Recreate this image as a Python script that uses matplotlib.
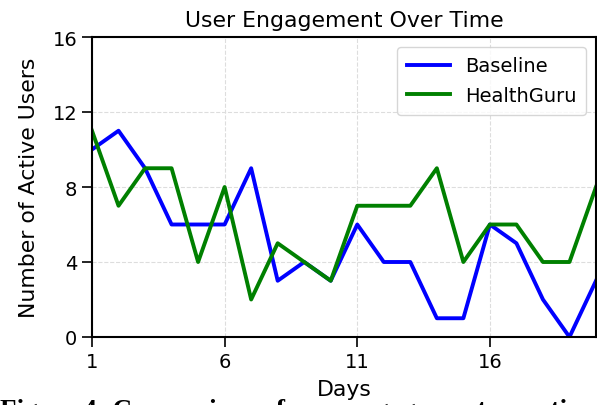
import matplotlib
matplotlib.use("Agg")
import matplotlib.pyplot as plt

# Données
jours = list(range(1, 21))
baseline = [10, 11, 9, 6, 6, 6, 9, 3, 4, 3, 6, 4, 4, 1, 1, 6, 5, 2, 0, 3]
healthguru = [11, 7, 9, 9, 4, 8, 2, 5, 4, 3, 7, 7, 7, 9, 4, 6, 6, 4, 4, 8]
xticks = [1, 6, 11, 16]
yticks = [0, 4, 8, 12, 16]

fig = plt.figure(figsize=(5.97, 4.06), dpi=100)
ax = fig.add_axes([92 / 597, 68 / 406, 504 / 597, 300 / 406])

ax.plot(jours, baseline, color="blue", linewidth=2.8, label="Baseline")
ax.plot(jours, healthguru, color="green", linewidth=2.8, label="HealthGuru")

ax.set_xlim(1, 20)
ax.set_ylim(0, 16)
ax.set_xticks(xticks)
ax.set_yticks(yticks)
ax.tick_params(labelsize=14, length=7, width=1.2)
for s in ax.spines.values():
    s.set_linewidth(1.5)
ax.grid(True, linestyle="--", color="#dddddd", linewidth=0.8)

ax.set_title("User Engagement Over Time", fontsize=15.8, pad=8)
ax.set_xlabel("Days", fontsize=15.8, labelpad=6)
ax.set_ylabel("Number of Active Users", fontsize=15.8, labelpad=10)
ax.legend(loc="upper right", fontsize=14, handlelength=2.2, borderpad=0.5,
          handletextpad=0.8, labelspacing=0.55)

# légende de la figure (coupée en bas dans l'original)
fig.text(0.0, -0.045, "Figure 4: Comparison of user engagement over time",
         fontsize=19.5, fontweight="bold", family="Liberation Serif", ha="left", va="bottom")

fig.savefig("out.png", dpi=100)
